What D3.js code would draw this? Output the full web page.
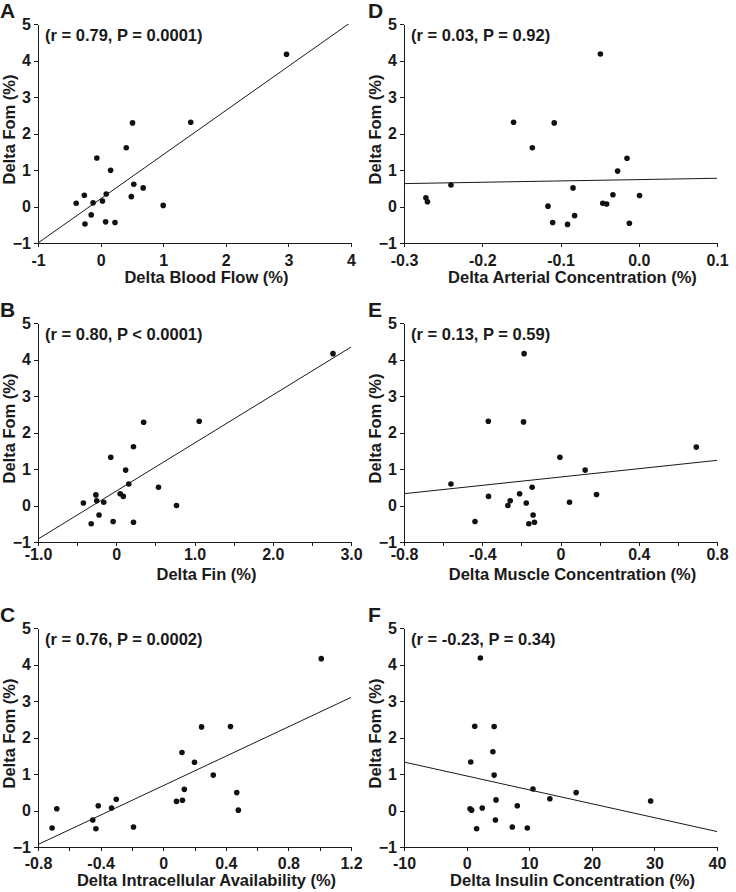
<!DOCTYPE html>
<html>
<head>
<meta charset="utf-8">
<title>Delta Fom correlations</title>
<style>
  body { margin: 0; padding: 0; background: #fff; }
  svg text {
    font-family: "Liberation Sans", Arial, Helvetica, sans-serif;
    font-weight: bold;
    fill: #1a1a1a;
  }
  .axis { color: #1a1a1a; }
  .axis text { font-size: 16px; }
  .axis path, .axis line { stroke-width: 1; shape-rendering: crispEdges; }
  .fit { stroke: #1a1a1a; stroke-width: 1; fill: none; }
  .dot { fill: #111; }
  .letter { font-size: 21px; }
  .stat, .title { font-size: 16.5px; }
</style>
</head>
<body>
<svg id="fig" width="736" height="892"></svg>
<script src="https://cdnjs.cloudflare.com/ajax/libs/d3/7.8.5/d3.min.js"></script>
<script>
// values, one x and one y list per panel
var bloodFlow = [2.97, 1.44, 0.51, 0.41, -0.06, 0.16, 0.53, 0.68, 0.09, -0.26, 0.49, 0.03, -0.12, -0.39, 1.00, -0.15, -0.25, 0.08, 0.23];
var fomA      = [4.17, 2.31, 2.29, 1.61, 1.33, 0.99, 0.61, 0.51, 0.34, 0.31, 0.27, 0.15, 0.10, 0.09, 0.03, -0.23, -0.48, -0.42, -0.44];

var fin  = [2.77, 1.06, 0.35, 0.22, -0.07, 0.12, 0.16, 0.54, 0.05, -0.26, 0.09, -0.25, -0.16, -0.42, 0.77, -0.22, -0.32, -0.04, 0.22];
var fomB = [4.16, 2.31, 2.28, 1.61, 1.32, 0.97, 0.59, 0.50, 0.32, 0.29, 0.25, 0.13, 0.09, 0.07, 0.00, -0.26, -0.50, -0.44, -0.46];

var intracell = [1.01, 0.245, 0.43, 0.12, 0.20, 0.32, 0.135, 0.47, -0.30, 0.123, 0.085, -0.415, -0.33, -0.68, 0.48, -0.45, -0.71, -0.43, -0.19];
var fomC      = [4.16, 2.29, 2.30, 1.59, 1.32, 0.97, 0.58, 0.49, 0.31, 0.28, 0.25, 0.13, 0.07, 0.05, 0.01, -0.26, -0.48, -0.50, -0.45];

var arterial = [-0.049, -0.160, -0.108, -0.136, -0.015, -0.027, -0.240, -0.084, -0.033, 0.001, -0.272, -0.270, -0.046, -0.041, -0.116, -0.082, -0.091, -0.110, -0.012];
var fomD     = [4.18, 2.31, 2.29, 1.61, 1.32, 0.97, 0.59, 0.51, 0.32, 0.30, 0.24, 0.13, 0.09, 0.07, 0.01, -0.25, -0.49, -0.44, -0.46];

var muscle = [-0.186, -0.369, -0.189, 0.694, -0.003, 0.126, -0.56, -0.145, -0.209, 0.184, -0.368, -0.257, -0.175, 0.046, -0.269, -0.14, -0.162, -0.437, -0.133];
var fomE   = [4.16, 2.31, 2.29, 1.60, 1.32, 0.97, 0.59, 0.50, 0.32, 0.30, 0.25, 0.13, 0.07, 0.09, 0.00, -0.26, -0.50, -0.44, -0.46];

var insulin = [2.2, 1.3, 4.4, 4.2, 0.66, 4.4, 10.6, 17.5, 13.3, 4.7, 29.4, 8.1, 2.5, 0.55, 0.8, 4.6, 1.6, 7.3, 9.7];
var fomF    = [4.18, 2.31, 2.30, 1.61, 1.33, 0.97, 0.59, 0.49, 0.32, 0.29, 0.26, 0.13, 0.07, 0.05, 0.01, -0.26, -0.50, -0.45, -0.48];

// regression lines: [intercept, slope]
var fitA = [0.21, 1.21];
var fitB = [0.395, 1.315];
var fitC = [0.68, 2.015];
var fitD = [0.737, 0.365];
var fitE = [0.78, 0.571];
var fitF = [0.947, -0.0381];

// axis ticks and their labels ("" = unlabelled tick)
var yTicks = [-1, 0, 1, 2, 3, 4, 5];
var ticksA = [-1, 0, 1, 2, 3, 4];
var labelsA = ["-1", "0", "1", "2", "3", "4"];
var ticksB = [-1, -0.5, 0, 0.5, 1, 1.5, 2, 2.5, 3];
var labelsB = ["-1.0", "", "0", "", "1.0", "", "2.0", "", "3.0"];
var ticksC = [-0.8, -0.6, -0.4, -0.2, 0, 0.2, 0.4, 0.6, 0.8, 1.0, 1.2];
var labelsC = ["-0.8", "", "-0.4", "", "0", "", "0.4", "", "0.8", "", "1.2"];
var ticksD = [-0.3, -0.2, -0.1, 0, 0.1];
var labelsD = ["-0.3", "-0.2", "-0.1", "0.0", "0.1"];
var ticksE = [-0.8, -0.6, -0.4, -0.2, 0, 0.2, 0.4, 0.6, 0.8];
var labelsE = ["-0.8", "", "-0.4", "", "0", "", "0.4", "", "0.8"];
var ticksF = [-10, 0, 10, 20, 30, 40];
var labelsF = ["-10", "0", "10", "20", "30", "40"];

var letters = ["A", "B", "C", "D", "E", "F"];
var xTitles = ["Delta Blood Flow (%)", "Delta Fin (%)", "Delta Intracellular Availability (%)",
               "Delta Arterial Concentration (%)", "Delta Muscle Concentration (%)", "Delta Insulin Concentration (%)"];
var stats = ["(r = 0.79, P = 0.0001)", "(r = 0.80, P < 0.0001)", "(r = 0.76, P = 0.0002)",
             "(r = 0.03, P = 0.92)", "(r = 0.13, P = 0.59)", "(r = -0.23, P = 0.34)"];

var panels = [
  { xs: bloodFlow, ys: fomA, dom: [-1, 4], ticks: ticksA, labels: labelsA, fit: fitA },
  { xs: fin, ys: fomB, dom: [-1, 3], ticks: ticksB, labels: labelsB, fit: fitB },
  { xs: intracell, ys: fomC, dom: [-0.8, 1.2], ticks: ticksC, labels: labelsC, fit: fitC },
  { xs: arterial, ys: fomD, dom: [-0.3, 0.1], ticks: ticksD, labels: labelsD, fit: fitD },
  { xs: muscle, ys: fomE, dom: [-0.8, 0.8], ticks: ticksE, labels: labelsE, fit: fitE },
  { xs: insulin, ys: fomF, dom: [-10, 40], ticks: ticksF, labels: labelsF, fit: fitF }
];

// layout
var colOrigin = [0, 368],
    colLeft = [38, 404],
    rowTop = [24, 323, 628],
    W = 313, H = 219,
    tickPad = [8, 2.5, 6.2],
    titleOff = [40, 38, 38.5];

var svg = d3.select("#fig");

panels.forEach(function(p, i) {
  var col = Math.floor(i / 3), row = i % 3;
  var left = colLeft[col], top = rowTop[row];

  var x = d3.scaleLinear().domain(p.dom).range([0, W]);
  var y = d3.scaleLinear().domain([-1, 5]).range([H, 0]);

  svg.append("text")
    .attr("class", "letter")
    .attr("x", colOrigin[col])
    .attr("y", top - 6)
    .text(letters[i]);

  var g = svg.append("g").attr("transform", "translate(" + left + "," + top + ")");

  g.append("clipPath").attr("id", "clip" + i)
    .append("rect").attr("width", W).attr("height", H);

  g.append("g")
    .attr("class", "axis")
    .attr("transform", "translate(0," + H + ")")
    .call(d3.axisBottom(x).tickValues(p.ticks)
      .tickFormat(function(d, k) { return p.labels[k]; })
      .tickSize(4).tickSizeOuter(0).tickPadding(tickPad[row]))
    .attr("font-size", null).attr("font-family", null);

  g.append("g")
    .attr("class", "axis")
    .call(d3.axisLeft(y).tickValues(yTicks)
      .tickFormat(d3.format("d"))
      .tickSize(4).tickSizeOuter(0).tickPadding(3))
    .attr("font-size", null).attr("font-family", null);

  var ends = p.dom.map(function(v) { return [x(v), y(p.fit[0] + p.fit[1] * v)]; });
  g.append("path")
    .attr("class", "fit")
    .attr("clip-path", "url(#clip" + i + ")")
    .attr("d", d3.line()(ends));

  g.selectAll("circle.dot")
    .data(p.xs.map(function(v, k) { return [v, p.ys[k]]; }))
    .enter().append("circle")
      .attr("class", "dot")
      .attr("cx", function(d) { return x(d[0]); })
      .attr("cy", function(d) { return y(d[1]); })
      .attr("r", 2.8);

  g.append("text")
    .attr("class", "stat")
    .attr("x", 7)
    .attr("y", 17)
    .text(stats[i]);

  g.append("text")
    .attr("class", "title")
    .attr("text-anchor", "middle")
    .attr("x", W / 2 + 12)
    .attr("y", H + titleOff[row])
    .text(xTitles[i]);

  g.append("text")
    .attr("class", "title")
    .attr("text-anchor", "middle")
    .attr("transform", "translate(-23," + (H / 2 - 4) + ") rotate(-90)")
    .text("Delta Fom (%)");
});
</script>
</body>
</html>
